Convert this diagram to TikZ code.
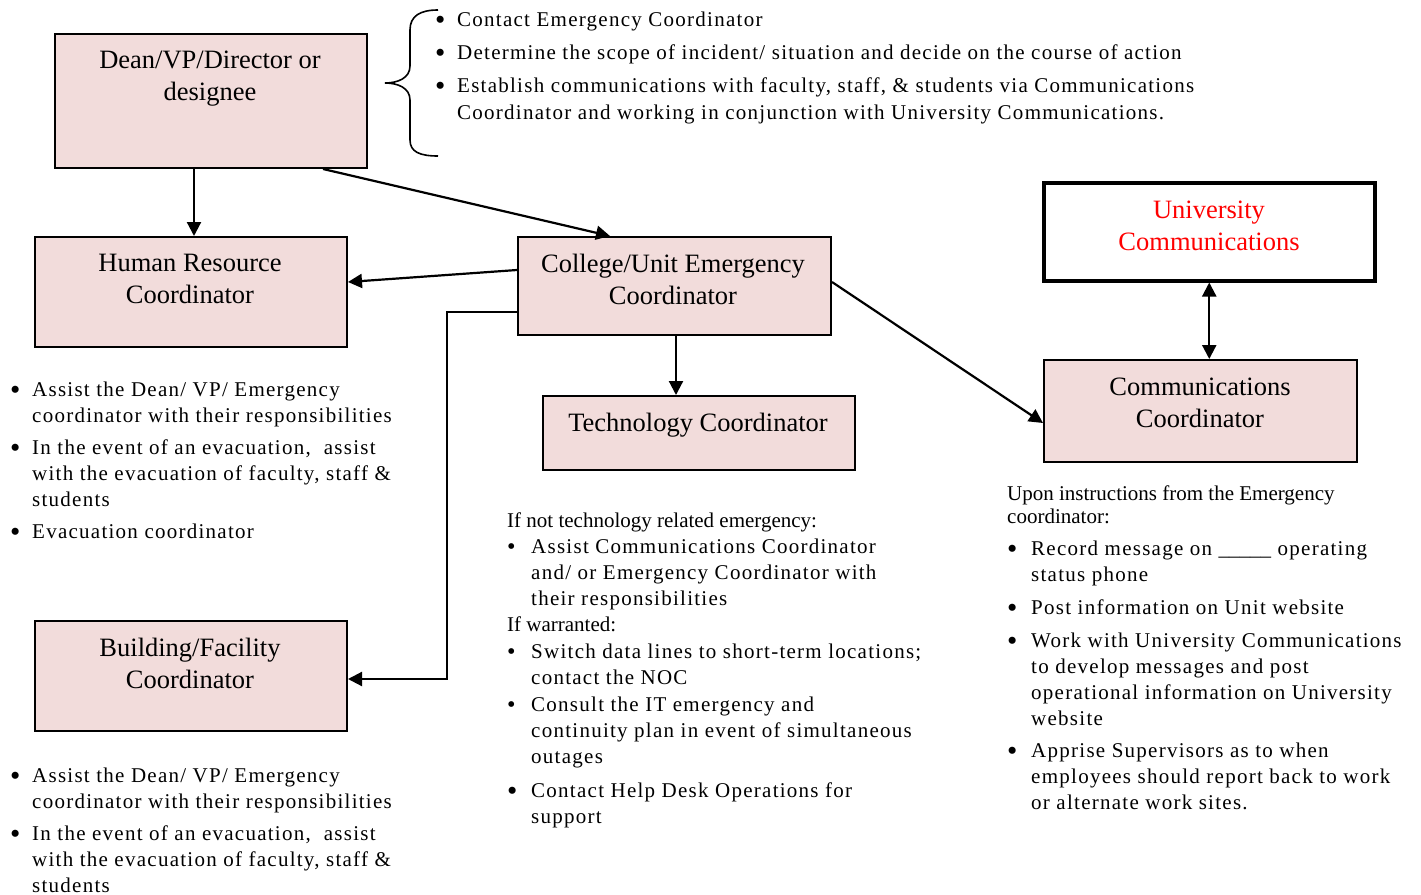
\documentclass[tikz,border=0pt]{standalone}
\usepackage{fontspec}
\usepackage{graphicx}
\setmainfont{Liberation Serif}
\newfontfamily\spfont{Liberation Serif}[LetterSpace=6]
\usetikzlibrary{arrows.meta,calc}
\definecolor{boxpink}{RGB}{242,220,219}
\newcommand\bigdot{\raisebox{-3.3pt}{\scalebox{1.4}{\textbullet}}}
\newcommand\smalldot{\raisebox{-1.2pt}{\scalebox{1.15}{\textbullet}}}
\newcommand\bul[1]{\makebox[22pt][l]{\bigdot}{\spfont #1}}
\newcommand\bult[1]{\makebox[24pt][l]{\bigdot}{\spfont #1}}
\newcommand\bults[1]{\makebox[24pt][l]{\smalldot}{\spfont #1}}
\newcommand\ind[1]{\hspace*{22pt}{\spfont #1}}
\newcommand\indt[1]{\hspace*{24pt}{\spfont #1}}
\begin{document}
\begin{tikzpicture}[x=1pt,y=-1pt,
  box/.style={draw=black,line width=2pt,fill=boxpink,rectangle,inner sep=0pt,anchor=north west},
  boxtext/.style={align=center,font=\fontsize{26.5}{32}\selectfont,inner sep=0pt},
  list/.style={align=left,anchor=north west,inner sep=0pt,font=\fontsize{21}{26}\selectfont},
  arr/.style={line width=2.2pt,-{Triangle[length=14pt,width=14pt]}},
  dbl/.style={line width=2.2pt,{Triangle[length=14pt,width=14pt]}-{Triangle[length=14pt,width=14pt]}},
  brace/.style={line width=1.6pt}]
\useasboundingbox (0,0) rectangle (1421,894);

% boxes
\node[box,minimum width=312pt,minimum height=134pt] (dean) at (54,33) {};
\node[box,minimum width=312pt,minimum height=110pt] (hr) at (34,236) {};
\node[box,minimum width=313pt,minimum height=98pt] (college) at (517,236) {};
\node[box,minimum width=312pt,minimum height=74pt] (tech) at (542,395) {};
\node[box,minimum width=312pt,minimum height=110pt] (building) at (34,620) {};
\node[box,fill=white,line width=3.5pt,minimum width=331pt,minimum height=98pt] (uni) at (1042,181) {};
\node[box,minimum width=313pt,minimum height=102pt] (comm) at (1043,359) {};

% box texts
\node[boxtext] (deant) at (210,79) {Dean/VP/Director or\\designee};
\node[boxtext] (hrt) at (190,279) {Human Resource\\Coordinator};
\node[boxtext] (colleget) at (673,279) {College/Unit Emergency\\Coordinator};
\node[boxtext] (techt) at (698,425) {Technology Coordinator};
\node[boxtext] (buildingt) at (190,663) {Building/Facility\\Coordinator};
\node[boxtext,text=red] (unit) at (1209,226) {University\\Communications};
\node[boxtext] (commt) at (1200,403) {Communications\\Coordinator};

% connectors
\draw[arr] ([xshift=140pt]dean.south west) -- ([xshift=160pt]hr.north west);
\draw[arr] ([xshift=269pt]dean.south west) -- ([xshift=93pt]college.north west);
\draw[arr] ([yshift=-34pt]college.north west) -- ([yshift=-46pt]hr.north east);
\coordinate (bend) at (447,679);
\draw[arr] ([yshift=-76pt]college.north west) -| (bend) -- ([yshift=-59pt]building.north east);
\draw[arr] ([xshift=159pt]college.south west) -- ([xshift=134pt]tech.north west);
\draw[arr] ([yshift=-46pt]college.north east) -- ([yshift=-64pt]comm.north west);
\draw[dbl] (uni.south) -- (uni.south |- comm.north);

% brace
\draw[brace] (438,10) .. controls (420,10) and (410,16) .. (410,30) -- (410,66)
  .. controls (410,78) and (398,83) .. (385,83)
  .. controls (398,83) and (410,88) .. (410,100) -- (410,140)
  .. controls (410,152) and (420,156) .. (438,156);

% lists
\node[list] (toplist) at (435,7.8) {\strut\bul{Contact Emergency Coordinator}\\[7pt]
  \bul{Determine the scope of incident/ situation and decide on the course of action}\\[7pt]
  \bul{Establish communications with faculty, staff, \& students via Communications}\\[1pt]
  \ind{Coordinator and working in conjunction with University Communications.}};

\node[list] (hrlist) at (10,377.8) {\strut\bul{Assist the Dean/ VP/ Emergency}\\
  \ind{coordinator with their responsibilities}\\[6pt]
  \bul{In the event of an evacuation, \ assist}\\
  \ind{with the evacuation of faculty, staff \&}\\
  \ind{students}\\[6pt]
  \bul{Evacuation coordinator}};

\node[list] (buildlist) at (10,763.8) {\strut\bul{Assist the Dean/ VP/ Emergency}\\
  \ind{coordinator with their responsibilities}\\[6pt]
  \bul{In the event of an evacuation, \ assist}\\
  \ind{with the evacuation of faculty, staff \&}\\
  \ind{students}};

\node[list] (techlist) at (507,508.8) {\strut If not technology related emergency:\\
  \bults{Assist Communications Coordinator}\\
  \indt{and/ or Emergency Coordinator with}\\
  \indt{their responsibilities}\\
  If warranted:\\[1pt]
  \bults{Switch data lines to short-term locations;}\\
  \indt{contact the NOC}\\[1pt]
  \bults{Consult the IT emergency and}\\
  \indt{continuity plan in event of simultaneous}\\
  \indt{outages}\\[8pt]
  \bult{Contact Help Desk Operations for}\\
  \indt{support}};

\node[list] (commlist) at (1007,481.8) {\strut Upon instructions from the Emergency\\[-3pt]
  coordinator:\\[6pt]
  \bult{Record message on {\normalfont\_\_\_\_\_} operating}\\
  \indt{status phone}\\[7pt]
  \bult{Post information on Unit website}\\[7pt]
  \bult{Work with University Communications}\\
  \indt{to develop messages and post}\\
  \indt{operational information on University}\\
  \indt{website}\\[6pt]
  \bult{Apprise Supervisors as to when}\\
  \indt{employees should report back to work}\\
  \indt{or alternate work sites.}};
\end{tikzpicture}
\end{document}
